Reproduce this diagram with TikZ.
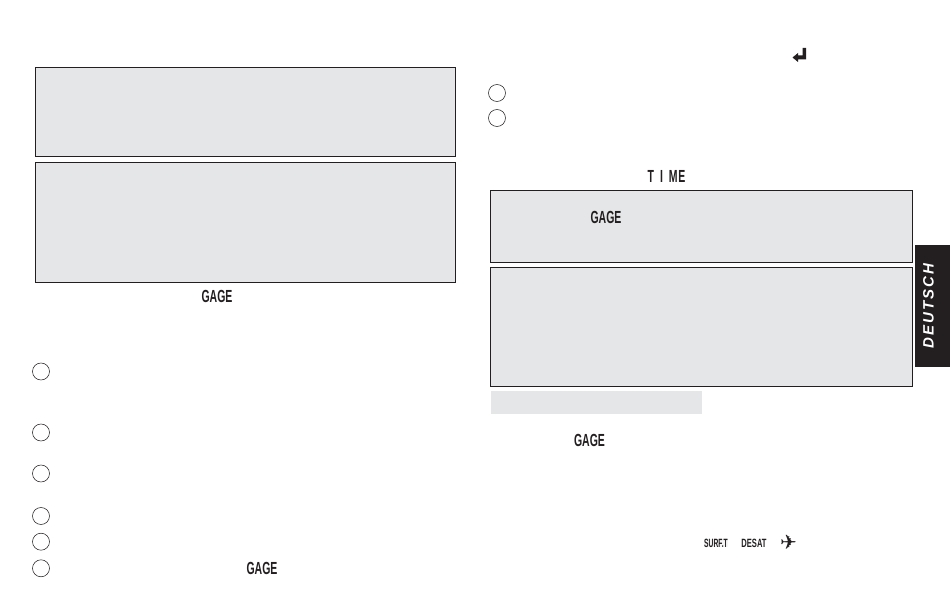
\documentclass[tikz,border=0pt]{standalone}
\usepackage{fontspec}
\setmainfont{Liberation Sans}
\newfontfamily\symfont{DejaVu Sans}
\definecolor{panelgray}{HTML}{E5E6E7}
\definecolor{inkdark}{HTML}{231F20}
\tikzset{
  panel/.style={draw=inkdark,line width=0.9pt,fill=panelgray,rectangle,inner sep=0pt,anchor=north west},
  stepcircle/.style={circle,draw=inkdark,line width=0.55pt,minimum size=17pt,inner sep=0pt},
  lcd/.style={inner sep=0pt,text=inkdark,font=\fontsize{17.5}{18}\selectfont\bfseries,xscale=0.6},
  smalllabel/.style={inner sep=0pt,text=inkdark,font=\fontsize{12}{12}\selectfont\bfseries}
}
\begin{document}
\begin{tikzpicture}[x=1pt,y=-1pt]
\useasboundingbox (0,0) rectangle (950,609);
% panels
\node[panel,minimum width=420pt,minimum height=89pt] (boxA) at (35,67.5) {};
\node[panel,minimum width=420pt,minimum height=120pt] (boxB) at (35,162.5) {};
\node[panel,minimum width=421.5pt,minimum height=72pt] (boxC) at (490,190.5) {};
\node[panel,minimum width=421.5pt,minimum height=119pt] (boxD) at (490,267) {};
\node[panel,draw=none,minimum width=211pt,minimum height=23pt] (boxE) at (491,391) {};
% language tab
\node[fill=inkdark,anchor=north west,minimum width=35pt,minimum height=122pt,inner sep=0pt] (tab) at (915,245) {};
\node[rotate=90,text=white,font=\fontsize{15}{15}\selectfont\bfseries\itshape,inner sep=0pt] (tablabel) at (928.5,306) {D\kern2pt E\kern2pt U\kern2pt T\kern2pt S\kern2pt C\kern2pt H};
% step circles
\foreach \n/\x/\y in {a/41/371.5,b/41/432.5,c/41/473.5,d/41/516,e/41/541.7,f/41/568.3,g/497/93,h/497/118}
  \node[stepcircle] (step\n) at (\x,\y) {};
% LCD words
\node[lcd] (gageA) at (217,296) {GAGE};
\node[lcd] (gageB) at (262,568) {GAGE};
\node[lcd] (gageC) at (606,217) {GAGE};
\node[lcd] (gageD) at (589.5,440) {GAGE};
\node[lcd] (timeA) at (666.5,176) {T\kern10pt I\kern10pt M\kern1pt E};
% icons
\node[smalllabel,xscale=0.56,fill=black!4] (surf) at (716,543) {SURF.T};
\node[smalllabel,xscale=0.63] (desat) at (754,543) {DESAT};
\node[inner sep=0pt,font=\symfont\fontsize{20}{20}\selectfont,text=inkdark] (plane) at (788.5,542) {✈};
% return arrow
\fill[inkdark] (792.5,57.5) -- (798,53) -- (798,55.5) -- (802.5,55.5) -- (802.5,48) -- (806,48) -- (806,59.5) -- (798,59.5) -- (798,62) -- cycle;
\end{tikzpicture}
\end{document}
